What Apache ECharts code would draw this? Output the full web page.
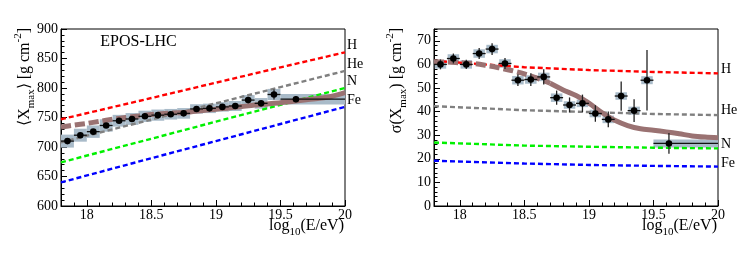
<!DOCTYPE html>
<html>
<head>
<meta charset="utf-8">
<script src="https://cdn.jsdelivr.net/npm/echarts@6/dist/echarts.min.js"></script>
<style>html,body{margin:0;padding:0;background:#fff}#c{width:747px;height:253px}</style>
</head>
<body>
<div id="c"></div>
<script>
// ---------- data ----------
const binCenter = [17.85,17.95,18.05,18.15,18.25,18.35,18.45,18.55,18.65,18.75,18.85,18.95,19.05,19.15,19.25,19.35,19.45,19.62];
const binLow    = [17.8,17.9,18.0,18.1,18.2,18.3,18.4,18.5,18.6,18.7,18.8,18.9,19.0,19.1,19.2,19.3,19.4,19.5];
const binHigh   = [17.9,18.0,18.1,18.2,18.3,18.4,18.5,18.6,18.7,18.8,18.9,19.0,19.1,19.2,19.3,19.4,19.5,20.0];

const meanXmax  = [710,720,726,736.5,744.5,747.5,752,754,755.5,757,764.5,765.5,768,769.5,779.5,774,789,781];
const meanStat  = [2,2,2,2,2,2,2,2,2,2,2.5,2.5,3,3,4,4.5,8.5,5];
const meanSys   = [11,11,10.5,10.5,10,10,9.5,9.5,9,9,8,8,8,8.5,8.5,9,9.5,9];

const sigmaXmax = [60.0,62.5,60.0,64.6,66.5,60.4,53.3,53.6,54.7,45.9,42.8,43.5,39.2,36.7,46.6,40.4,53.3,26.5];
const sigmaStat = [2.1,2.1,2.0,2.3,2.5,2.3,2.5,2.7,3.2,3.0,3.2,3.7,3.5,3.3,6.2,4.8,12.8,4.4];
const sigmaSys  = [1.8,1.8,1.8,1.8,1.8,1.8,1.8,1.8,1.8,1.8,1.6,1.6,1.6,1.6,1.6,1.7,1.7,1.7];

const modelX    = [17.8,18.5,19.0,19.5,20.0];
const meanH     = [747,783,809,835,860.5];
const meanHe    = [708,746.5,774,801.5,829];
const meanN     = [674,714,743,771.5,800];
const meanFe    = [640,681,710,739,768];
const sigmaH    = [61.5,58.8,57.6,56.8,56.2];
const sigmaHe   = [42.3,40.6,39.8,39.0,38.5];
const sigmaN    = [26.9,25.6,25.1,24.7,24.4];
const sigmaFe   = [19.2,18.0,17.4,17.0,16.7];

const fitLowX   = [17.8,17.9,18.0,18.1,18.2,18.3,18.4,18.5,18.6,18.7];
const fitMeanLow= [734,737,740,743.5,747,750,752.5,755,757,758];
const fitSigLow = [61.1,61.0,60.7,60.4,59.6,58.6,57.4,56.0,54.2,52.0];
const fitHighX  = [18.7,18.8,18.9,19.0,19.1,19.2,19.3,19.4,19.5,19.6,19.7,19.8,19.9,20.0];
const fitMeanHigh=[758,759.5,762,764,766,768.5,771,773,775,777.5,780,782.5,786,792];
const fitSigHigh= [52.0,49.2,46.8,43.6,39.6,36.3,34.1,32.7,32.1,31.4,30.6,29.7,29.2,28.9];

const xMajor = [18,18.5,19,19.5,20];
const yRightMajor = [0,10,20,30,40,50,60,70];
const compNames = ['H','He','N','Fe'];

// ---------- styles ----------
const F = 'Liberation Serif';
const COL = {H:'#ff0000', He:'#808080', N:'#00f000', Fe:'#0000ff'};
const BROWN = '#9a7272';
const BOX = '#a9bbc9';

const zip = (xs, ys) => xs.map((x,i)=>[x, ys[i]]);
const pts = (ys, st, sy) => binCenter.map((x,i)=>[x, ys[i], st[i], sy[i], binLow[i], binHigh[i]]);

function boxRender(shrink){
  return function(params, api){
    const lo = api.value(4), hi = api.value(5), y = api.value(1), s = api.value(3);
    const p1 = api.coord([lo, y + s]), p2 = api.coord([hi, y - s]);
    const pad = (hi - lo) > 0.2 ? 0 : shrink;
    return {type:'rect', shape:{x:p1[0]+pad, y:p1[1], width:p2[0]-p1[0]-2*pad, height:p2[1]-p1[1]}, style:{fill:BOX}};
  };
}
function pointRender(params, api){
  const x = api.value(0), y = api.value(1), e = api.value(2), lo = api.value(4), hi = api.value(5);
  const c = api.coord([x,y]), t = api.coord([x,y+e]), b = api.coord([x,y-e]);
  const l = api.coord([lo,y]), r = api.coord([hi,y]);
  return {type:'group', children:[
    {type:'line', shape:{x1:l[0],y1:c[1],x2:r[0],y2:c[1]}, style:{stroke:'#111',lineWidth:1.3}},
    {type:'line', shape:{x1:c[0],y1:t[1],x2:c[0],y2:b[1]}, style:{stroke:'#222',lineWidth:1.3}},
    {type:'circle', shape:{cx:c[0],cy:c[1],r:3.3}, style:{fill:'#000'}}
  ]};
}

const lab = {color:'#000', fontFamily:F, fontSize:14};
function xAxes(g){
  return [
    {gridIndex:g, type:'value', position:'bottom', min:17.8, max:20,
     axisLine:{lineStyle:{color:'#000',width:1}}, splitLine:{show:false},
     axisTick:{inside:true, length:6, customValues:xMajor, lineStyle:{color:'#000'}},
     axisLabel:Object.assign({customValues:xMajor, margin:2, formatter:v=>String(v)}, lab)},
    {gridIndex:g, type:'value', position:'bottom', min:17.8, max:20, interval:0.1,
     axisLine:{show:false}, splitLine:{show:false},
     axisTick:{inside:true, length:3.5, lineStyle:{color:'#000'}},
     axisLabel:{show:false}}
  ];
}

const series = [];
function panel(g, vals, st, sy, models, fitLo, fitHi, shrink){
  const xi = g*2, yi = g*2;
  series.push({type:'custom', xAxisIndex:xi, yAxisIndex:yi, z:1, renderItem:boxRender(shrink), data:pts(vals,st,sy), encode:{x:0,y:1}, silent:true});
  compNames.forEach((n,k)=>{
    series.push({type:'line', xAxisIndex:xi, yAxisIndex:yi, z:2, showSymbol:false, symbol:'none', data:zip(modelX, models[k]),
      lineStyle:{color:COL[n], width:2.4, type:[5,3]}});
  });
  series.push({type:'line', xAxisIndex:xi, yAxisIndex:yi, z:3, showSymbol:false, symbol:'none', smooth:0.3, data:zip(fitLowX, fitLo),
    lineStyle:{color:BROWN, width:5, type:[10,4]}});
  series.push({type:'line', xAxisIndex:xi, yAxisIndex:yi, z:3, showSymbol:false, symbol:'none', smooth:0.3, data:zip(fitHighX, fitHi),
    lineStyle:{color:BROWN, width:5}});
  series.push({type:'custom', xAxisIndex:xi, yAxisIndex:yi, z:5, renderItem:pointRender, data:pts(vals,st,sy), encode:{x:0,y:1}, silent:true});
}
panel(0, meanXmax, meanStat, meanSys, [meanH,meanHe,meanN,meanFe], fitMeanLow, fitMeanHigh, 0);
panel(1, sigmaXmax, sigmaStat, sigmaSys, [sigmaH,sigmaHe,sigmaN,sigmaFe], fitSigLow, fitSigHigh, 0.7);

const rich = {
  n:{fontSize:16, fontFamily:F, fill:'#000', lineHeight:24},
  s:{fontSize:11, fontFamily:F, fill:'#000', lineHeight:11, verticalAlign:'bottom'},
  p:{fontSize:11, fontFamily:F, fill:'#000', lineHeight:11, verticalAlign:'top'}
};
function txt(x,y,text,size,align){
  return {type:'text', x:x, y:y, z:100, style:{text:text, fontFamily:F, fontSize:size, fill:'#000', align:align||'left', verticalAlign:'middle'}};
}
function rtxt(x,y,text,rot,align){
  return {type:'text', x:x, y:y, z:100, rotation:rot, style:{text:text, rich:rich, align:align, verticalAlign:'middle'}};
}

const option = {
  animation:false,
  grid:[
    {left:61, top:29, width:284, height:177, show:true, borderColor:'#000', borderWidth:1},
    {left:434, top:29, width:284, height:177, show:true, borderColor:'#000', borderWidth:1}
  ],
  xAxis:[...xAxes(0), ...xAxes(1)],
  yAxis:[
    {gridIndex:0, type:'value', position:'left', min:600, max:900, interval:50,
     axisLine:{show:true, lineStyle:{color:'#000'}}, splitLine:{show:false},
     axisTick:{inside:true, length:6, lineStyle:{color:'#000'}},
     minorTick:{show:true, splitNumber:5, length:3.5, lineStyle:{color:'#000'}}, minorSplitLine:{show:false},
     axisLabel:Object.assign({margin:3}, lab)},
    {gridIndex:0, type:'value', position:'left', min:600, max:900, show:false},
    {gridIndex:1, type:'value', position:'left', min:0, max:75,
     axisLine:{show:true, lineStyle:{color:'#000'}}, splitLine:{show:false},
     axisTick:{inside:true, length:6, customValues:yRightMajor, lineStyle:{color:'#000'}},
     axisLabel:Object.assign({margin:3, customValues:yRightMajor}, lab)},
    {gridIndex:1, type:'value', position:'left', min:0, max:75, interval:2,
     axisLine:{show:false}, splitLine:{show:false},
     axisTick:{inside:true, length:3.5, lineStyle:{color:'#000'}},
     axisLabel:{show:false}}
  ],
  series:series,
  graphic:[
    txt(138.5, 42, 'EPOS-LHC', 16, 'center'),
    txt(347, 45, compNames[0], 14), txt(347, 64, compNames[1], 14), txt(347, 81, compNames[2], 14), txt(347, 100, compNames[3], 14),
    txt(721, 69, compNames[0], 14), txt(721, 110, compNames[1], 14), txt(721, 144, compNames[2], 14), txt(721, 163, compNames[3], 14),
    rtxt(25, 28, '{n|⟨X}{s|max}{n|⟩ [g cm}{p|-2}{n|]}', Math.PI/2, 'right'),
    rtxt(397, 28, '{n|σ(X}{s|max}{n|) [g cm}{p|-2}{n|]}', Math.PI/2, 'right'),
    rtxt(344, 226, '{n|log}{s|10}{n|(E/eV)}', 0, 'right'),
    rtxt(717, 226, '{n|log}{s|10}{n|(E/eV)}', 0, 'right')
  ]
};
const chart = echarts.init(document.getElementById('c'), null, {renderer:'canvas'});
chart.setOption(option);
</script>
</body>
</html>
